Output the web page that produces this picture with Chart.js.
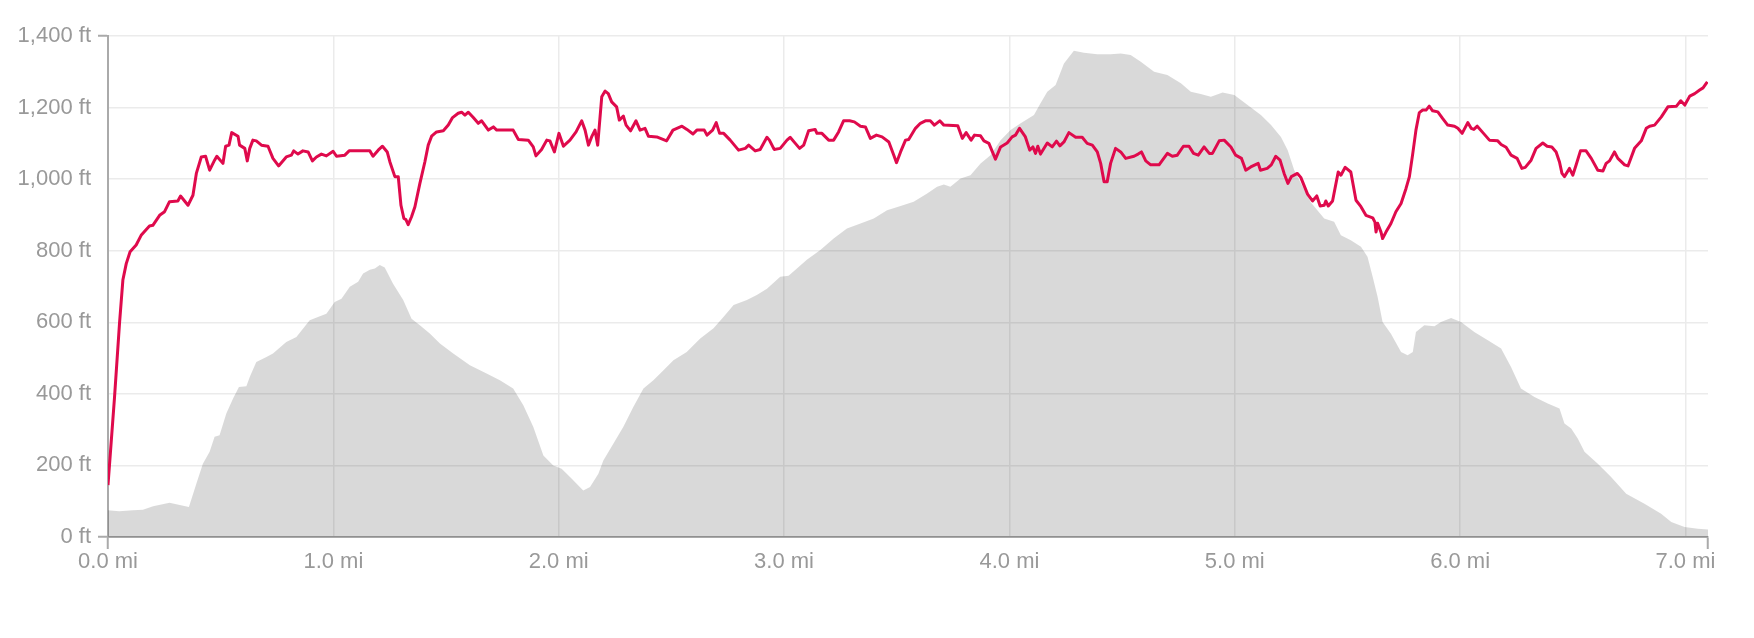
<!DOCTYPE html>
<html>
<head>
<meta charset="utf-8">
<title>Elevation profile</title>
<script src="https://cdn.jsdelivr.net/npm/chart.js@4.4.1/dist/chart.umd.min.js"></script>
<style>
	html, body { margin: 0; padding: 0; background: #fff; }
	#wrap { width: 1754px; height: 638px; }
</style>
</head>
<body>
<div id="wrap"><canvas id="profile_chart"></canvas></div>
<script>
// tick values of both axes, and where the route stops
const mileTicks = [0, 1, 2, 3, 4, 5, 6, 7];
const footTicks = [0, 200, 400, 600, 800, 1000, 1200, 1400];
const routeEnd = 7.1;

// grey area: terrain elevation along the route
const elevMiles = [
	0, 0.05, 0.11, 0.155, 0.2, 0.273, 0.359, 0.392, 0.421, 0.451,
	0.473, 0.495, 0.525, 0.555, 0.581, 0.614, 0.629, 0.658, 0.703, 0.732,
	0.791, 0.836, 0.895, 0.94, 0.969, 1.006, 1.036, 1.073, 1.11, 1.132,
	1.162, 1.184, 1.206, 1.228, 1.265, 1.31, 1.347, 1.384, 1.428, 1.473,
	1.532, 1.606, 1.68, 1.739, 1.798, 1.843, 1.887, 1.932, 1.976, 2.013,
	2.058, 2.109, 2.139, 2.176, 2.198, 2.243, 2.287, 2.331, 2.376, 2.42,
	2.465, 2.509, 2.568, 2.628, 2.687, 2.731, 2.776, 2.835, 2.879, 2.924,
	2.983, 3.02, 3.057, 3.101, 3.161, 3.22, 3.279, 3.339, 3.398, 3.457,
	3.517, 3.575, 3.635, 3.679, 3.709, 3.738, 3.783, 3.827, 3.872, 3.916,
	3.961, 4.005, 4.05, 4.109, 4.138, 4.168, 4.205, 4.242, 4.286, 4.331,
	4.39, 4.449, 4.494, 4.538, 4.583, 4.642, 4.701, 4.761, 4.805, 4.849,
	4.894, 4.946, 4.998, 5.057, 5.116, 5.161, 5.205, 5.235, 5.264, 5.294,
	5.338, 5.397, 5.441, 5.471, 5.515, 5.56, 5.589, 5.612, 5.634, 5.656,
	5.693, 5.738, 5.767, 5.79, 5.804, 5.841, 5.886, 5.915, 5.96, 6.004,
	6.063, 6.123, 6.182, 6.226, 6.27, 6.33, 6.389, 6.441, 6.463, 6.493,
	6.522, 6.552, 6.611, 6.67, 6.737, 6.818, 6.892, 6.937, 6.996, 7.055,
	7.1
];
const elevFt = [
	75, 72, 75, 76, 86, 96, 84, 149, 205, 238,
	280, 284, 345, 387, 419, 421, 447, 489, 503, 513,
	545, 559, 606, 617, 624, 657, 666, 699, 713, 736,
	747, 750, 760, 753, 708, 662, 610, 592, 569, 541,
	513, 480, 457, 438, 415, 368, 308, 228, 200, 191,
	163, 130, 140, 177, 214, 261, 308, 363, 415, 438,
	466, 494, 517, 555, 583, 615, 648, 662, 676, 694,
	727, 730, 750, 775, 802, 834, 862, 876, 890, 913,
	925, 937, 960, 979, 985, 979, 1002, 1011, 1044, 1067,
	1109, 1137, 1156, 1179, 1212, 1244, 1263, 1323, 1359, 1353,
	1349, 1349, 1351, 1347, 1328, 1300, 1291, 1268, 1244, 1238,
	1230, 1242, 1235, 1207, 1179, 1151, 1118, 1081, 1025, 988,
	935, 890, 881, 843, 829, 811, 783, 727, 671, 601,
	568, 517, 508, 517, 573, 592, 589, 601, 612, 601,
	573, 550, 527, 475, 415, 391, 373, 359, 317, 303,
	275, 238, 205, 168, 121, 93, 65, 42, 28, 23,
	21
];

// red line: recorded altitude along the route
const trackMiles = [
	0, 0.029, 0.051, 0.066, 0.081, 0.098, 0.125, 0.147, 0.184, 0.199,
	0.229, 0.251, 0.273, 0.31, 0.322, 0.355, 0.377, 0.392, 0.414, 0.433,
	0.451, 0.473, 0.483, 0.51, 0.522, 0.537, 0.549, 0.577, 0.584, 0.607,
	0.618, 0.629, 0.643, 0.658, 0.681, 0.71, 0.732, 0.757, 0.791, 0.814,
	0.824, 0.843, 0.865, 0.888, 0.907, 0.925, 0.947, 0.969, 0.999, 1.014,
	1.051, 1.07, 1.162, 1.176, 1.199, 1.218, 1.239, 1.251, 1.273, 1.288,
	1.3, 1.313, 1.322, 1.332, 1.347, 1.362, 1.384, 1.406, 1.421, 1.436,
	1.458, 1.488, 1.51, 1.529, 1.554, 1.569, 1.584, 1.599, 1.621, 1.643,
	1.658, 1.688, 1.71, 1.725, 1.798, 1.821, 1.865, 1.887, 1.899, 1.924,
	1.947, 1.961, 1.981, 2.001, 2.021, 2.05, 2.077, 2.102, 2.117, 2.132,
	2.146, 2.161, 2.173, 2.191, 2.206, 2.22, 2.235, 2.257, 2.269, 2.287,
	2.299, 2.319, 2.343, 2.361, 2.383, 2.398, 2.435, 2.479, 2.507, 2.547,
	2.569, 2.596, 2.613, 2.646, 2.658, 2.683, 2.699, 2.714, 2.732, 2.761,
	2.798, 2.828, 2.843, 2.872, 2.894, 2.924, 2.935, 2.956, 2.983, 3.013,
	3.027, 3.05, 3.069, 3.087, 3.109, 3.138, 3.146, 3.168, 3.198, 3.22,
	3.242, 3.264, 3.291, 3.312, 3.339, 3.361, 3.383, 3.41, 3.435, 3.465,
	3.487, 3.499, 3.517, 3.539, 3.553, 3.583, 3.605, 3.627, 3.649, 3.667,
	3.691, 3.709, 3.771, 3.791, 3.808, 3.83, 3.845, 3.872, 3.887, 3.909,
	3.938, 3.961, 3.99, 4.012, 4.027, 4.045, 4.071, 4.09, 4.104, 4.116,
	4.126, 4.138, 4.168, 4.19, 4.209, 4.224, 4.242, 4.264, 4.294, 4.323,
	4.345, 4.368, 4.39, 4.405, 4.42, 4.434, 4.449, 4.471, 4.494, 4.516,
	4.553, 4.571, 4.586, 4.605, 4.627, 4.664, 4.701, 4.723, 4.745, 4.772,
	4.797, 4.817, 4.838, 4.864, 4.887, 4.901, 4.931, 4.953, 4.983, 5.004,
	5.03, 5.049, 5.071, 5.104, 5.114, 5.144, 5.162, 5.182, 5.201, 5.219,
	5.236, 5.251, 5.278, 5.293, 5.323, 5.345, 5.364, 5.379, 5.397, 5.404,
	5.415, 5.434, 5.459, 5.471, 5.49, 5.515, 5.538, 5.56, 5.582, 5.612,
	5.622, 5.627, 5.634, 5.649, 5.656, 5.671, 5.693, 5.715, 5.738, 5.76,
	5.775, 5.79, 5.804, 5.819, 5.834, 5.849, 5.863, 5.878, 5.901, 5.923,
	5.945, 5.975, 5.99, 6.009, 6.034, 6.049, 6.061, 6.076, 6.101, 6.13,
	6.167, 6.182, 6.204, 6.226, 6.253, 6.274, 6.289, 6.315, 6.337, 6.367,
	6.386, 6.407, 6.426, 6.441, 6.452, 6.463, 6.485, 6.5, 6.515, 6.534,
	6.559, 6.582, 6.611, 6.634, 6.648, 6.663, 6.685, 6.7, 6.73, 6.745,
	6.774, 6.804, 6.826, 6.841, 6.863, 6.893, 6.922, 6.96, 6.979, 6.997,
	7.019, 7.041, 7.063, 7.078, 7.097
];
const trackFt = [
	145, 391, 596, 718, 764, 797, 816, 843, 869, 871,
	899, 909, 937, 939, 953, 927, 955, 1016, 1062, 1064,
	1025, 1053, 1064, 1044, 1092, 1095, 1130, 1120, 1095, 1086,
	1051, 1086, 1109, 1107, 1095, 1092, 1058, 1037, 1062, 1067,
	1079, 1070, 1079, 1076, 1051, 1062, 1070, 1065, 1078, 1064,
	1067, 1079, 1079, 1064, 1081, 1092, 1076, 1048, 1007, 1007,
	927, 890, 887, 873, 895, 923, 988, 1048, 1095, 1120,
	1132, 1135, 1151, 1172, 1184, 1187, 1179, 1187, 1172, 1156,
	1163, 1137, 1146, 1137, 1137, 1111, 1109, 1090, 1065, 1083,
	1109, 1107, 1076, 1128, 1092, 1109, 1132, 1163, 1137, 1095,
	1118, 1137, 1095, 1230, 1246, 1239, 1216, 1202, 1165, 1176,
	1151, 1135, 1163, 1137, 1142, 1120, 1118, 1107, 1137, 1148,
	1139, 1126, 1137, 1137, 1123, 1137, 1158, 1128, 1128, 1109,
	1081, 1086, 1095, 1079, 1083, 1117, 1109, 1083, 1086, 1109,
	1117, 1100, 1086, 1095, 1135, 1139, 1128, 1128, 1109, 1109,
	1132, 1163, 1163, 1160, 1148, 1146, 1114, 1123, 1118, 1104,
	1067, 1046, 1076, 1109, 1111, 1142, 1156, 1163, 1163, 1151,
	1163, 1151, 1149, 1114, 1130, 1109, 1123, 1121, 1107, 1100,
	1056, 1090, 1101, 1118, 1123, 1142, 1118, 1081, 1090, 1072,
	1092, 1070, 1101, 1090, 1106, 1093, 1104, 1130, 1117, 1117,
	1100, 1095, 1076, 1044, 993, 993, 1044, 1086, 1076, 1058,
	1064, 1070, 1076, 1051, 1040, 1040, 1072, 1064, 1067, 1092,
	1092, 1072, 1067, 1090, 1072, 1072, 1107, 1109, 1090, 1067,
	1058, 1025, 1034, 1044, 1025, 1030, 1040, 1064, 1053, 1016,
	988, 1007, 1016, 1005, 958, 939, 953, 925, 927, 939,
	925, 939, 1020, 1011, 1033, 1020, 941, 923, 899, 892,
	880, 852, 877, 852, 834, 852, 876, 909, 932, 974,
	1007, 1072, 1137, 1186, 1193, 1193, 1204, 1191, 1188, 1169,
	1151, 1148, 1142, 1128, 1158, 1142, 1139, 1148, 1130, 1109,
	1107, 1097, 1089, 1067, 1058, 1030, 1033, 1053, 1086, 1101,
	1092, 1090, 1076, 1048, 1016, 1007, 1030, 1011, 1040, 1079,
	1079, 1058, 1025, 1023, 1044, 1051, 1076, 1058, 1040, 1037,
	1086, 1107, 1142, 1148, 1151, 1174, 1202, 1204, 1219, 1207,
	1232, 1239, 1249, 1255, 1272
];

const axisGrey = '#aaaaaa';
const gridGrey = '#ebebeb';
const labelFont = {family: 'Liberation Sans, Arial, sans-serif', size: 22};

function toPoints(xs, ys) {
	return xs.map(function (x, i) { return {x: x, y: ys[i]}; });
}
// only the two ends of each axis get a tick mark
function endTick(ctx) {
	const last = ctx.scale.ticks.length - 1;
	return (ctx.index === 0 || ctx.index === last) ? axisGrey : 'rgba(0,0,0,0)';
}

new Chart(document.getElementById('profile_chart'), {
	type: 'line',
	data: {
		datasets: [{
			label: 'Track',
			data: toPoints(trackMiles, trackFt),
			borderColor: '#df0a4c',
			borderWidth: 3,
			borderJoinStyle: 'round',
			fill: false,
			order: 0
		}, {
			label: 'Elevation',
			data: toPoints(elevMiles, elevFt),
			borderWidth: 0,
			borderColor: 'rgba(0,0,0,0)',
			backgroundColor: 'rgba(0,0,0,0.15)',
			fill: 'origin',
			order: 1
		}]
	},
	options: {
		responsive: true,
		maintainAspectRatio: false,
		animation: false,
		events: [],
		layout: {padding: {top: 36, right: 46, left: 0, bottom: 0}},
		elements: {point: {radius: 0}, line: {tension: 0}},
		plugins: {legend: {display: false}, tooltip: {enabled: false}},
		scales: {
			x: {
				type: 'linear',
				min: 0,
				max: routeEnd,
				afterBuildTicks: function (scale) {
					scale.ticks = mileTicks.concat([routeEnd]).map(function (v) { return {value: v}; });
				},
				afterFit: function (scale) { scale.height = 101; },
				border: {color: axisGrey, width: 2},
				grid: {
					color: function (ctx) {
						return ctx.index === ctx.scale.ticks.length - 1 ? 'rgba(0,0,0,0)' : gridGrey;
					},
					lineWidth: 1.5,
					tickLength: 12,
					tickWidth: 2,
					tickColor: endTick
				},
				ticks: {
					autoSkip: false,
					maxRotation: 0,
					padding: 0,
					color: '#999999',
					font: labelFont,
					callback: function (value) {
						return mileTicks.indexOf(value) === -1 ? '' : value.toFixed(1) + ' mi';
					}
				}
			},
			y: {
				min: 0,
				max: 1400,
				afterBuildTicks: function (scale) {
					scale.ticks = footTicks.map(function (v) { return {value: v}; });
				},
				afterFit: function (scale) { scale.width = 108; },
				border: {color: axisGrey, width: 2},
				grid: {
					color: gridGrey,
					lineWidth: 1.5,
					tickLength: 10,
					tickWidth: 2,
					tickColor: endTick
				},
				ticks: {
					padding: 7,
					color: '#999999',
					font: labelFont,
					callback: function (value) {
						return value.toLocaleString('en-US') + ' ft';
					}
				}
			}
		}
	}
});
</script>
</body>
</html>
